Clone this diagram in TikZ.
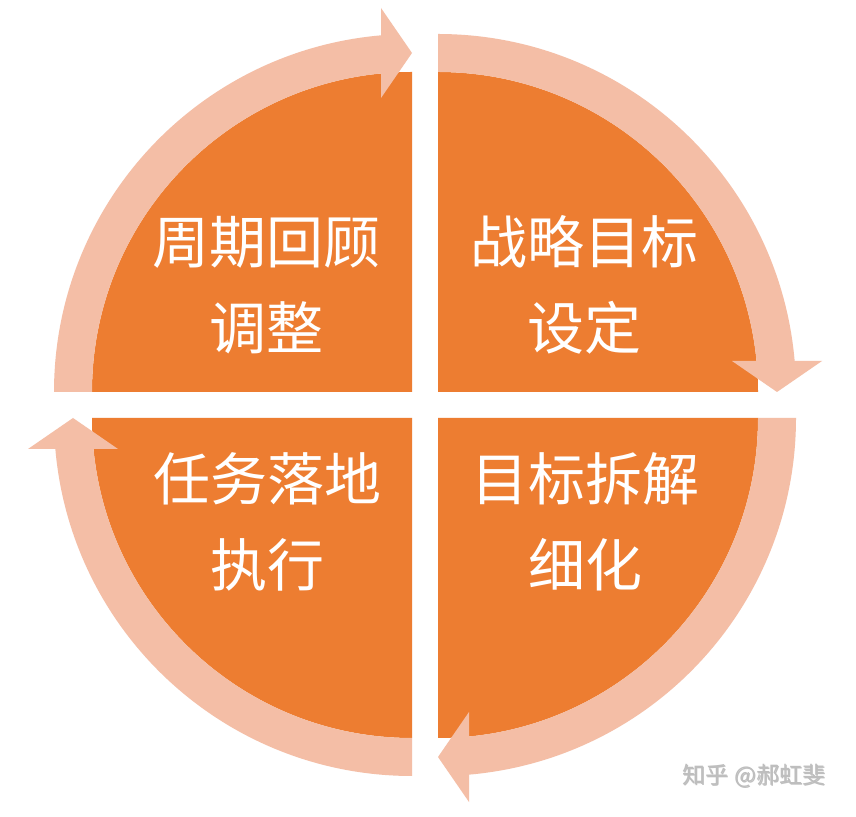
\documentclass[tikz,border=0pt]{standalone}
\usepackage{fontspec}
\newfontfamily\cjk{Noto Sans CJK SC}
\usetikzlibrary{calc}
\definecolor{quadorange}{RGB}{237,125,49}
\definecolor{ringpeach}{RGB}{244,190,166}
\definecolor{wmgray}{RGB}{190,190,190}
\tikzset{
  quadfill/.style={fill=quadorange},
  ringfill/.style={fill=ringpeach},
  quadlabel/.style={text=white, align=center, font=\cjk\fontsize{57}{86}\selectfont, inner sep=0pt},
  wmlabel/.style={text=wmgray, font=\cjk\fontsize{23}{23}\selectfont, inner sep=0pt}
}
\begin{document}
\begin{tikzpicture}[x=1pt,y=1pt]
\useasboundingbox (0,0) rectangle (856,816);
\fill[white] (0,0) rectangle (856,816);
% corners of the four quarters
\coordinate (tl) at (412,424);
\coordinate (tr) at (438,424);
\coordinate (bl) at (412,398);
\coordinate (br) at (438,398);
% orange quarters
\fill[quadfill] (tl) -- ($(tl)+(180:320)$) arc[start angle=180,end angle=90,radius=320] -- cycle;
\fill[quadfill] (tr) -- ($(tr)+(90:320)$) arc[start angle=90,end angle=0,radius=320] -- cycle;
\fill[quadfill] (br) -- ($(br)+(0:320)$) arc[start angle=0,end angle=-90,radius=320] -- cycle;
\fill[quadfill] (bl) -- ($(bl)+(-90:320)$) arc[start angle=-90,end angle=-180,radius=320] -- cycle;
% ring arrows: corner / start angle / tip angle
\foreach \c/\s/\t in {tl/180/90, tr/90/0, br/0/-90, bl/-90/-180}{
  \pgfmathsetmacro{\e}{\t+4}
  \pgfmathsetmacro{\b}{\t+90}
  \fill[ringfill] ($(\c)+(\s:358)$) arc[start angle=\s,end angle=\e,radius=358]
     -- ($(\c)+(\e:320)$) arc[start angle=\e,end angle=\s,radius=320] -- cycle;
  \fill[ringfill] ($(\c)+(\t:339)$) -- ($(\c)+(\t:384)+(\b:31)$) -- ($(\c)+(\t:294)+(\b:31)$) -- cycle;
}
% labels
\node[quadlabel] (lbltl) at (266,531) {周期回顾\\调整};
\node[quadlabel] (lbltr) at (584,531) {战略目标\\设定};
\node[quadlabel] (lblbl) at (267,294) {任务落地\\执行};
\node[quadlabel] (lblbr) at (585,294) {目标拆解\\细化};
% watermark
\node[wmlabel, text=white!45!black, opacity=0.45] (wmshadow) at (754.8,39.2) {知乎\hspace{6pt}@郝虹斐};
\node[wmlabel] (wm) at (754,40) {知乎\hspace{6pt}@郝虹斐};
\end{tikzpicture}
\end{document}
